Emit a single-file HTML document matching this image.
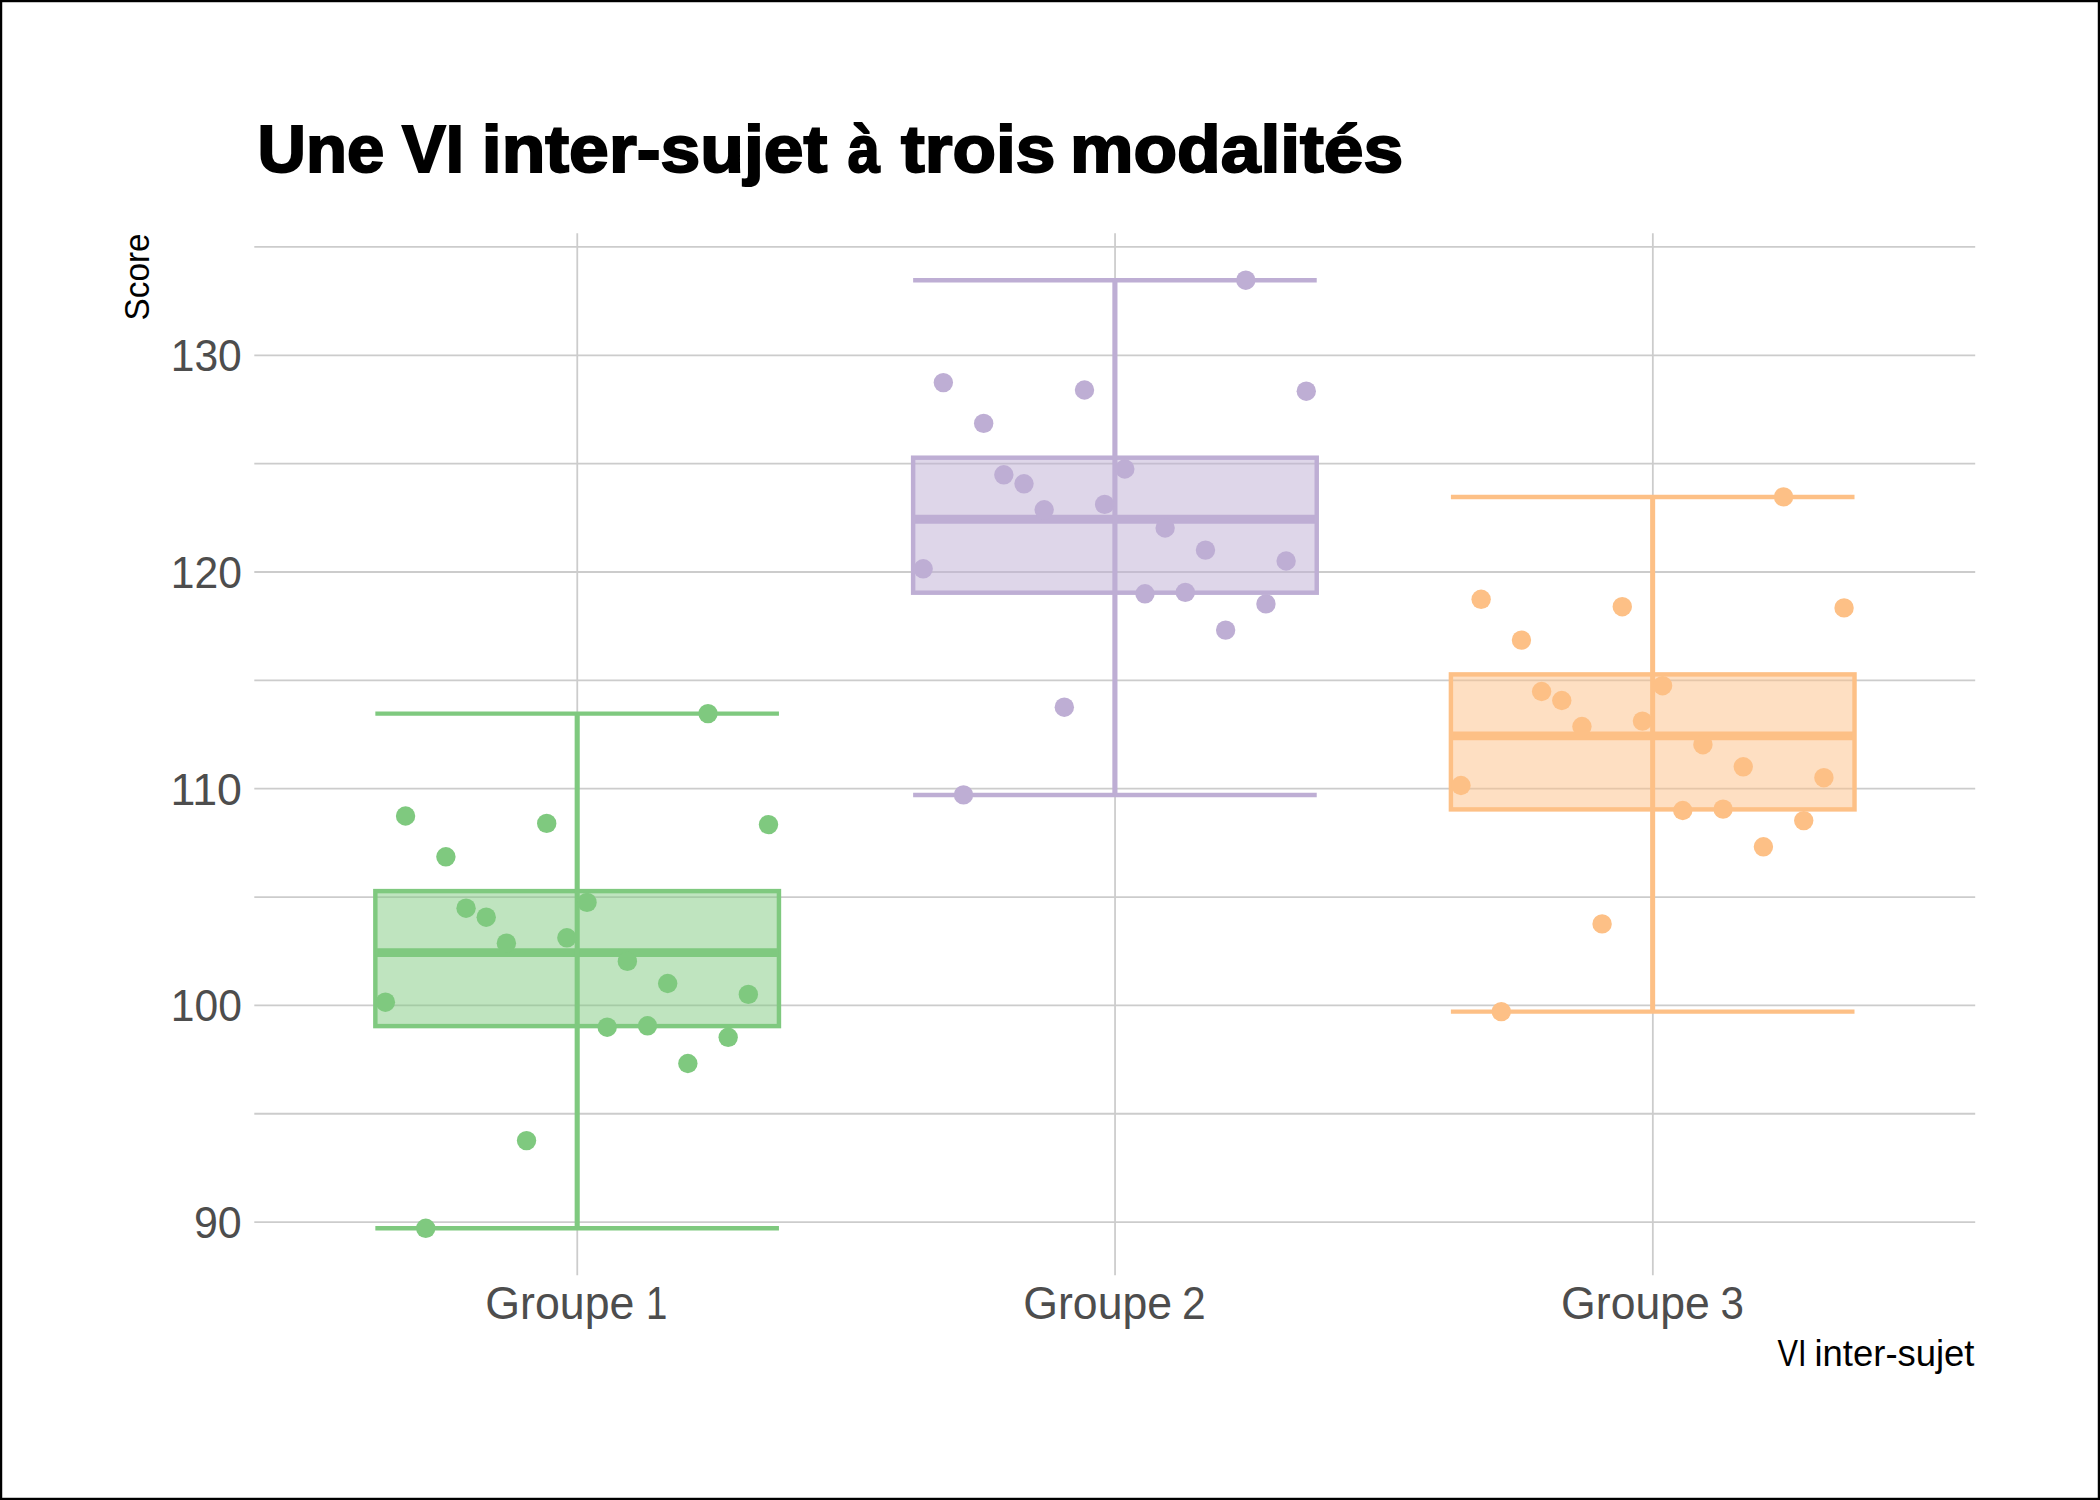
<!DOCTYPE html>
<html lang="fr"><head><meta charset="utf-8"><title>Une VI inter-sujet à trois modalités</title>
<style>html,body{margin:0;padding:0;background:#fff;}body{width:2100px;height:1500px;overflow:hidden;}svg{display:block;}</style>
</head><body>
<svg width="2100" height="1500" viewBox="0 0 2100 1500">
<rect x="0" y="0" width="2100" height="1500" fill="#ffffff"/>
<g stroke="#cccccc" stroke-width="1.78" fill="none">
<line x1="254.30" x2="1975.20" y1="1222.10" y2="1222.10"/>
<line x1="254.30" x2="1975.20" y1="1113.75" y2="1113.75"/>
<line x1="254.30" x2="1975.20" y1="1005.40" y2="1005.40"/>
<line x1="254.30" x2="1975.20" y1="897.05" y2="897.05"/>
<line x1="254.30" x2="1975.20" y1="788.70" y2="788.70"/>
<line x1="254.30" x2="1975.20" y1="680.35" y2="680.35"/>
<line x1="254.30" x2="1975.20" y1="572.00" y2="572.00"/>
<line x1="254.30" x2="1975.20" y1="463.65" y2="463.65"/>
<line x1="254.30" x2="1975.20" y1="355.30" y2="355.30"/>
<line x1="254.30" x2="1975.20" y1="246.95" y2="246.95"/>
<line x1="577.27" x2="577.27" y1="233.30" y2="1275.30"/>
<line x1="1115.05" x2="1115.05" y1="233.30" y2="1275.30"/>
<line x1="1652.83" x2="1652.83" y1="233.30" y2="1275.30"/>
</g>
<g stroke="#7FC97F" stroke-width="4.45" fill="none" stroke-linecap="butt">
<path d="M375.35 713.60H778.95M577.15 713.60V1228.30M375.35 1228.30H778.95"/>
<rect x="375.35" y="891.10" width="403.60" height="135.00" fill="#7FC97F" fill-opacity="0.5" stroke-linejoin="miter"/>
<path d="M375.35 952.60H778.95" stroke-width="8.9"/>
<path d="M577.15 713.60V1228.30" stroke-width="4.9"/>
</g>
<g fill="#7FC97F">
<circle cx="385.40" cy="1002.20" r="9.7"/>
<circle cx="405.56" cy="816.00" r="9.7"/>
<circle cx="425.73" cy="1228.30" r="9.7"/>
<circle cx="445.89" cy="856.80" r="9.7"/>
<circle cx="466.05" cy="908.20" r="9.7"/>
<circle cx="486.22" cy="917.20" r="9.7"/>
<circle cx="506.38" cy="943.20" r="9.7"/>
<circle cx="526.54" cy="1140.60" r="9.7"/>
<circle cx="546.71" cy="823.40" r="9.7"/>
<circle cx="566.87" cy="937.80" r="9.7"/>
<circle cx="587.03" cy="902.40" r="9.7"/>
<circle cx="607.19" cy="1027.20" r="9.7"/>
<circle cx="627.36" cy="961.40" r="9.7"/>
<circle cx="647.52" cy="1025.80" r="9.7"/>
<circle cx="667.68" cy="983.50" r="9.7"/>
<circle cx="687.85" cy="1063.50" r="9.7"/>
<circle cx="708.01" cy="713.60" r="9.7"/>
<circle cx="728.17" cy="1037.30" r="9.7"/>
<circle cx="748.34" cy="994.40" r="9.7"/>
<circle cx="768.50" cy="824.60" r="9.7"/>
</g>
<g stroke="#BEAED4" stroke-width="4.45" fill="none" stroke-linecap="butt">
<path d="M913.13 280.20H1316.73M1114.93 280.20V794.90M913.13 794.90H1316.73"/>
<rect x="913.13" y="457.70" width="403.60" height="135.00" fill="#BEAED4" fill-opacity="0.5" stroke-linejoin="miter"/>
<path d="M913.13 519.20H1316.73" stroke-width="8.9"/>
<path d="M1114.93 280.20V794.90" stroke-width="4.9"/>
</g>
<g fill="#BEAED4">
<circle cx="923.18" cy="568.80" r="9.7"/>
<circle cx="943.34" cy="382.60" r="9.7"/>
<circle cx="963.51" cy="794.90" r="9.7"/>
<circle cx="983.67" cy="423.40" r="9.7"/>
<circle cx="1003.83" cy="474.80" r="9.7"/>
<circle cx="1024.00" cy="483.80" r="9.7"/>
<circle cx="1044.16" cy="509.80" r="9.7"/>
<circle cx="1064.32" cy="707.20" r="9.7"/>
<circle cx="1084.49" cy="390.00" r="9.7"/>
<circle cx="1104.65" cy="504.40" r="9.7"/>
<circle cx="1124.81" cy="469.00" r="9.7"/>
<circle cx="1144.98" cy="593.80" r="9.7"/>
<circle cx="1165.14" cy="528.00" r="9.7"/>
<circle cx="1185.30" cy="592.40" r="9.7"/>
<circle cx="1205.47" cy="550.10" r="9.7"/>
<circle cx="1225.63" cy="630.10" r="9.7"/>
<circle cx="1245.79" cy="280.20" r="9.7"/>
<circle cx="1265.95" cy="603.90" r="9.7"/>
<circle cx="1286.12" cy="561.00" r="9.7"/>
<circle cx="1306.28" cy="391.20" r="9.7"/>
</g>
<g stroke="#FDC086" stroke-width="4.45" fill="none" stroke-linecap="butt">
<path d="M1450.91 496.90H1854.51M1652.71 496.90V1011.60M1450.91 1011.60H1854.51"/>
<rect x="1450.91" y="674.40" width="403.60" height="135.00" fill="#FDC086" fill-opacity="0.5" stroke-linejoin="miter"/>
<path d="M1450.91 735.90H1854.51" stroke-width="8.9"/>
<path d="M1652.71 496.90V1011.60" stroke-width="4.9"/>
</g>
<g fill="#FDC086">
<circle cx="1460.96" cy="785.50" r="9.7"/>
<circle cx="1481.13" cy="599.30" r="9.7"/>
<circle cx="1501.29" cy="1011.60" r="9.7"/>
<circle cx="1521.45" cy="640.10" r="9.7"/>
<circle cx="1541.62" cy="691.50" r="9.7"/>
<circle cx="1561.78" cy="700.50" r="9.7"/>
<circle cx="1581.94" cy="726.50" r="9.7"/>
<circle cx="1602.10" cy="923.90" r="9.7"/>
<circle cx="1622.27" cy="606.70" r="9.7"/>
<circle cx="1642.43" cy="721.10" r="9.7"/>
<circle cx="1662.59" cy="685.70" r="9.7"/>
<circle cx="1682.76" cy="810.50" r="9.7"/>
<circle cx="1702.92" cy="744.70" r="9.7"/>
<circle cx="1723.08" cy="809.10" r="9.7"/>
<circle cx="1743.25" cy="766.80" r="9.7"/>
<circle cx="1763.41" cy="846.80" r="9.7"/>
<circle cx="1783.57" cy="496.90" r="9.7"/>
<circle cx="1803.74" cy="820.60" r="9.7"/>
<circle cx="1823.90" cy="777.70" r="9.7"/>
<circle cx="1844.06" cy="607.90" r="9.7"/>
</g>
<text y="172.0" font-family="'Liberation Sans', sans-serif" font-weight="bold" font-size="67.4" fill="#000000" stroke="#000000" stroke-width="2.0" stroke-linejoin="miter"><tspan x="257.55" textLength="126.72" lengthAdjust="spacingAndGlyphs">Une</tspan> <tspan x="402.07" textLength="61.93" lengthAdjust="spacingAndGlyphs">VI</tspan> <tspan x="481.79" textLength="345.60" lengthAdjust="spacingAndGlyphs">inter-sujet</tspan> <tspan x="847.65" textLength="32.03" lengthAdjust="spacingAndGlyphs">à</tspan> <tspan x="901.06" textLength="154.47" lengthAdjust="spacingAndGlyphs">trois</tspan> <tspan x="1070.00" textLength="333.24" lengthAdjust="spacingAndGlyphs">modalités</tspan></text>
<g font-family="'Liberation Sans', sans-serif" font-size="44.3" fill="#4d4d4d">
<text y="371.20"><tspan x="170.74" textLength="71.02" lengthAdjust="spacingAndGlyphs">130</tspan></text>
<text y="587.90"><tspan x="170.74" textLength="71.13" lengthAdjust="spacingAndGlyphs">120</tspan></text>
<text y="804.60"><tspan x="170.60" textLength="71.31" lengthAdjust="spacingAndGlyphs">110</tspan></text>
<text y="1021.30"><tspan x="170.74" textLength="71.13" lengthAdjust="spacingAndGlyphs">100</tspan></text>
<text y="1238.00"><tspan x="193.99" textLength="47.78" lengthAdjust="spacingAndGlyphs">90</tspan></text>
<text y="1319.4" font-size="46.0"><tspan x="485.30" textLength="149.11" lengthAdjust="spacingAndGlyphs">Groupe</tspan> <tspan x="645.90" textLength="21.36" lengthAdjust="spacingAndGlyphs">1</tspan></text>
<text y="1319.4" font-size="46.0"><tspan x="1023.31" textLength="148.80" lengthAdjust="spacingAndGlyphs">Groupe</tspan> <tspan x="1182.00" textLength="23.73" lengthAdjust="spacingAndGlyphs">2</tspan></text>
<text y="1319.4" font-size="46.0"><tspan x="1561.11" textLength="148.70" lengthAdjust="spacingAndGlyphs">Groupe</tspan> <tspan x="1720.38" textLength="23.42" lengthAdjust="spacingAndGlyphs">3</tspan></text>
</g>
<g font-family="'Liberation Sans', sans-serif" font-size="36.4" fill="#000000">
<text y="1366.3"><tspan x="1777.50" textLength="29.08" lengthAdjust="spacingAndGlyphs">VI</tspan> <tspan x="1814.52" textLength="159.95" lengthAdjust="spacingAndGlyphs">inter-sujet</tspan></text>
<text transform="translate(148.9 319.4) rotate(-90)" x="-1.04" y="0" font-size="35.8" textLength="86.99" lengthAdjust="spacingAndGlyphs">Score</text>
</g>
<rect x="0" y="0" width="2100" height="1500" fill="none" stroke="#000000" stroke-width="4.45"/>
</svg>
</body></html>
